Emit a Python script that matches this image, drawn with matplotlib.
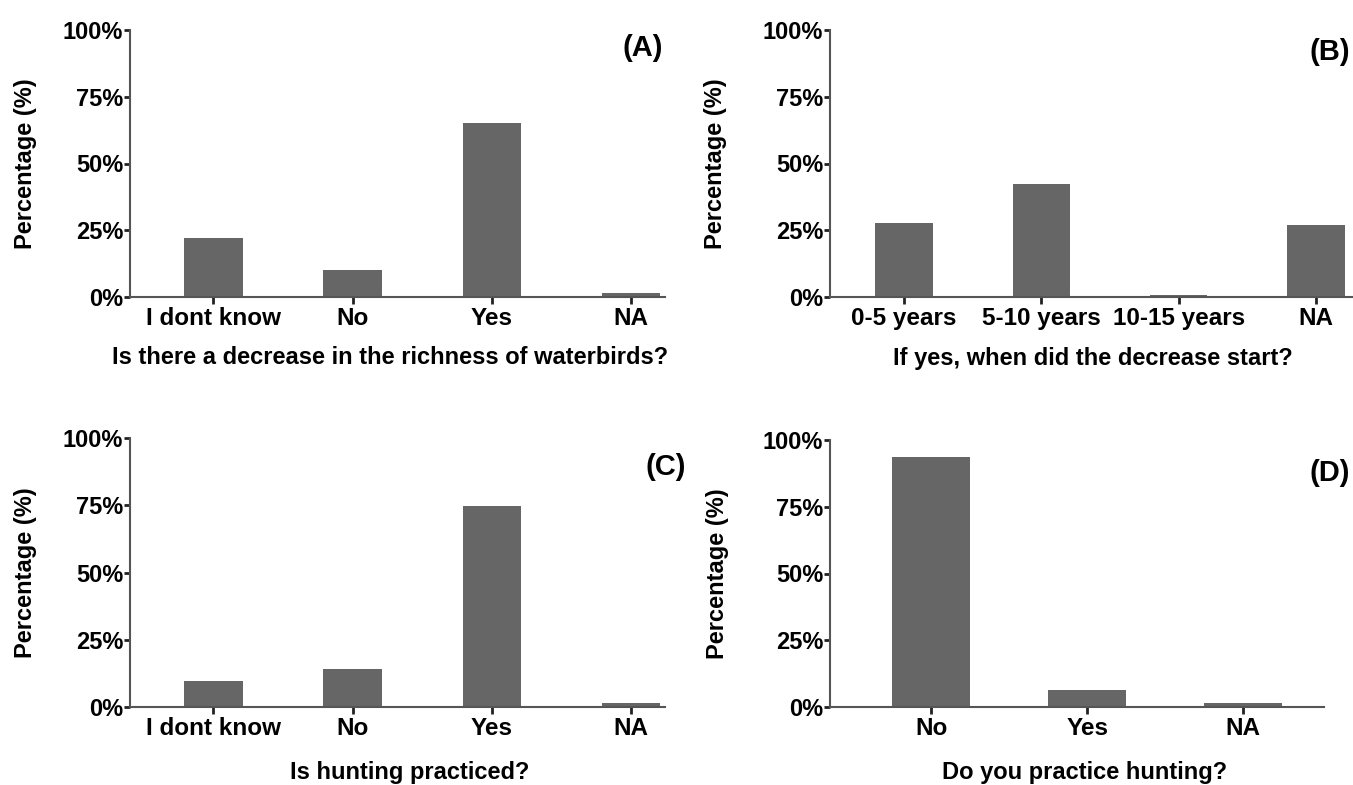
import matplotlib
matplotlib.use("Agg")
import matplotlib.pyplot as plt

plt.rcParams['font.family'] = ['Liberation Sans', 'DejaVu Sans']
plt.rcParams['font.weight'] = 'bold'

# data
cats_a = ["I dont know", "No", "Yes", "NA"]
vals_a = [22.0, 10.0, 65.0, 1.5]

cats_b = ["0-5 years", "5-10 years", "10-15 years", "NA"]
vals_b = [27.8, 42.5, 0.8, 27.0]

cats_c = ["I dont know", "No", "Yes", "NA"]
vals_c = [9.8, 14.2, 74.7, 1.5]

cats_d = ["No", "Yes", "NA"]
vals_d = [93.5, 6.5, 1.5]

bar_color = "#666666"
axis_color = "#555555"

W, H = 1353, 785
fig = plt.figure(figsize=(W / 100, H / 100), dpi=100)


def px_axes(left, right, top, bottom):
    return fig.add_axes([left / W, 1 - bottom / H, (right - left) / W, (bottom - top) / H])


panels = [
    (px_axes(130, 665, 30, 297), cats_a, vals_a, 0.42, (-0.6, 3.245), -0.174),
    (px_axes(830, 1353, 30, 297), cats_b, vals_b, 0.42, (-0.54, 3.27), -0.197),
    (px_axes(130, 665, 438, 707), cats_c, vals_c, 0.42, (-0.6, 3.245), -0.174),
    (px_axes(830, 1324, 440, 707), cats_d, vals_d, 0.5, (-0.65, 2.52), -0.204),
]

for ax, cats, vals, width, xlim, ylab_x in panels:
    x = range(len(cats))
    ax.bar(x, vals, width=width, color=bar_color, zorder=2)
    ax.set_xlim(*xlim)
    ax.set_ylim(0, 100)
    ax.set_xticks(list(x))
    ax.set_xticklabels(cats, fontsize=17.5, fontweight='bold')
    ax.set_yticks([0, 25, 50, 75, 100])
    ax.set_yticklabels(["0%", "25%", "50%", "75%", "100%"], fontsize=17, fontweight='bold')
    for side in ["top", "right"]:
        ax.spines[side].set_visible(False)
    for side in ["left", "bottom"]:
        ax.spines[side].set_color(axis_color)
        ax.spines[side].set_linewidth(1.5)
    ax.tick_params(axis='y', length=4, width=2, pad=1, color='#222222')
    ax.tick_params(axis='x', length=5, width=2, pad=2, color='#222222')
    ax.set_ylabel("Percentage (%)", fontsize=17, fontweight='bold')
    ax.yaxis.set_label_coords(ylab_x, 0.5)

# x axis titles
fig.text(390 / W, 1 - 358 / H, "Is there a decrease in the richness of waterbirds?",
         ha='center', va='center', fontsize=17, fontweight='bold')
fig.text(1093 / W, 1 - 358 / H, "If yes, when did the decrease start?",
         ha='center', va='center', fontsize=17, fontweight='bold')
fig.text(410 / W, 1 - 772 / H, "Is hunting practiced?",
         ha='center', va='center', fontsize=17, fontweight='bold')
fig.text(1085 / W, 1 - 772 / H, "Do you practice hunting?",
         ha='center', va='center', fontsize=17, fontweight='bold')

# panel letters
fig.text(663 / W, 1 - 48 / H, "(A)", ha='right', va='center', fontsize=21, fontweight='bold')
fig.text(1350 / W, 1 - 52 / H, "(B)", ha='right', va='center', fontsize=21, fontweight='bold')
fig.text(686 / W, 1 - 467 / H, "(C)", ha='right', va='center', fontsize=21, fontweight='bold')
fig.text(1350 / W, 1 - 473 / H, "(D)", ha='right', va='center', fontsize=21, fontweight='bold')

fig.savefig("out.png", dpi=100)
